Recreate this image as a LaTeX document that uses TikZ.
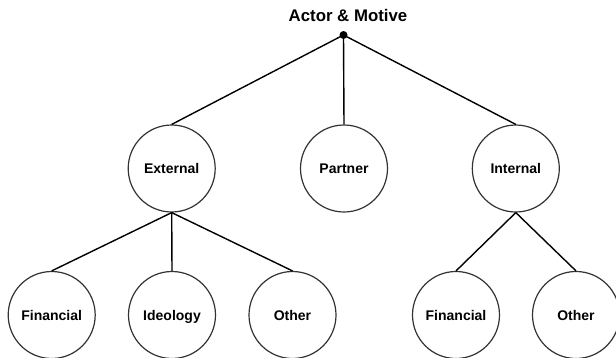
\documentclass[tikz,border=0pt]{standalone}
\usepackage{fontspec}
\setmainfont{Liberation Sans}
\begin{document}
\begin{tikzpicture}[x=1pt,y=-1pt,
  cnode/.style={circle,draw=black!80,line width=1.2pt,minimum size=87pt,inner sep=0pt,text height=10pt,text depth=0pt,font=\fontsize{14}{16}\selectfont\bfseries},
  edge/.style={draw=black,line width=1.4pt}]
\useasboundingbox (0,0) rectangle (616,357);
\node[font=\fontsize{16.8}{19}\selectfont\bfseries,anchor=base] (title) at (348,21.5) {Actor \& Motive};
\node[circle,fill=black,inner sep=0pt,minimum size=8pt] (root) at (343.5,35) {};
\node[cnode] (ext) at (171.7,168.5) {External};
\node[cnode] (par) at (344,168.5) {Partner};
\node[cnode] (int) at (515.8,168.5) {Internal};
\node[cnode] (fin1) at (51.7,315) {Financial};
\node[cnode] (ideo) at (172,315) {Ideology};
\node[cnode] (oth1) at (292.5,315) {Other};
\node[cnode] (fin2) at (456,315) {Financial};
\node[cnode] (oth2) at (576,315) {Other};
\draw[edge] (root.center) -- (ext.north);
\draw[edge] (root.center) -- (par.north);
\draw[edge] (root.center) -- (int.north);
\draw[edge] (ext.south) -- (fin1.north);
\draw[edge] (ext.south) -- (ideo.north);
\draw[edge] (ext.south) -- (oth1.north);
\draw[edge] (int.south) -- (fin2.north);
\draw[edge] (int.south) -- (oth2.north);
\end{tikzpicture}
\end{document}
